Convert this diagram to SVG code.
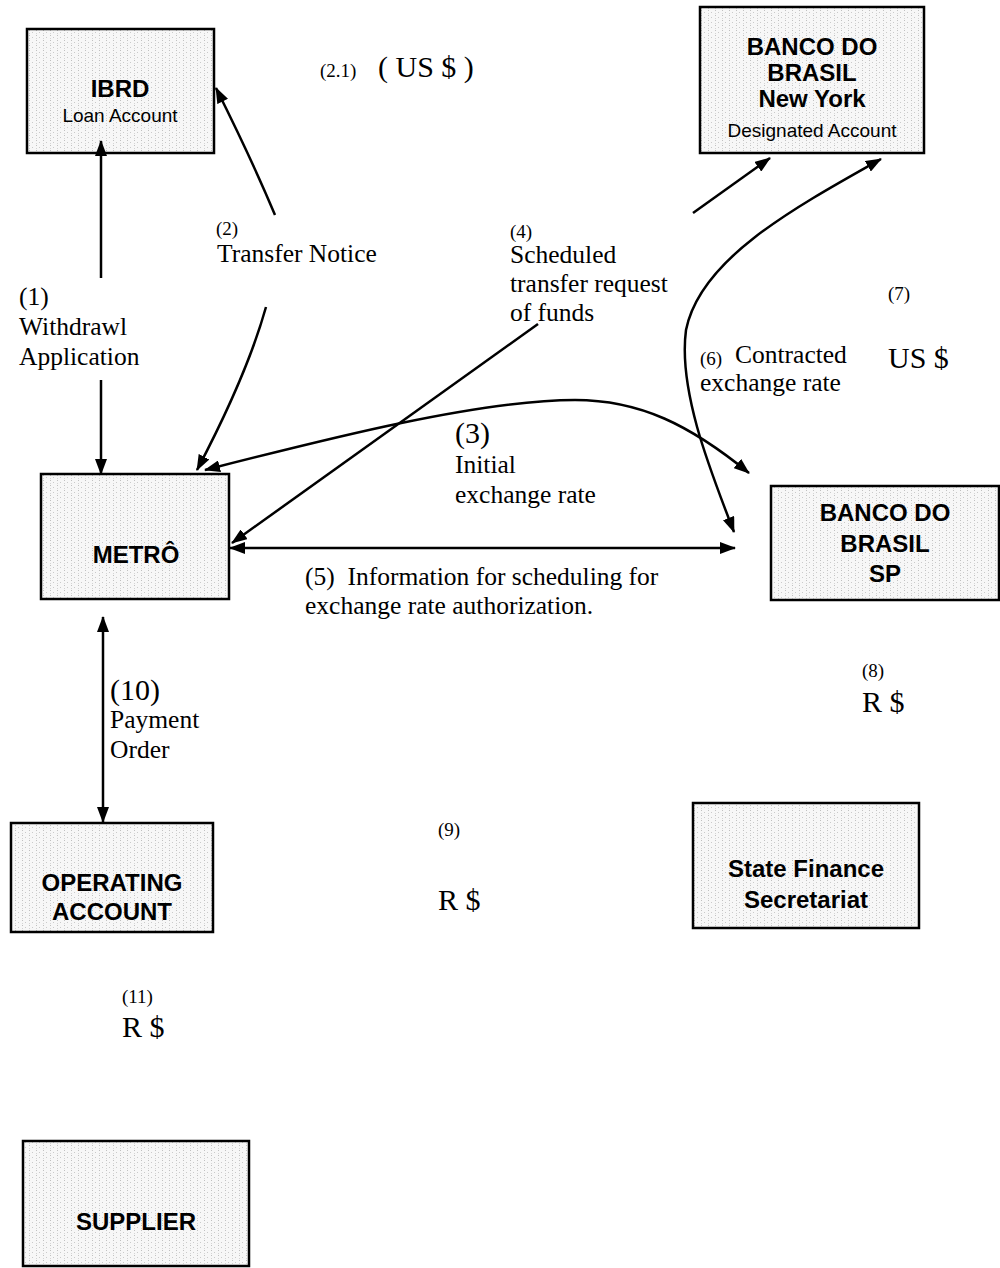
<svg xmlns="http://www.w3.org/2000/svg" width="1000" height="1268" viewBox="0 0 1000 1268">
<style>
.box{fill:url(#tex);stroke:#000;stroke-width:2.5}
.bt{font-family:"Liberation Sans",Arial,sans-serif;font-weight:bold;font-size:24px;fill:#000;text-anchor:middle}
.bs{font-family:"Liberation Sans",Arial,sans-serif;font-size:19px;fill:#000;text-anchor:middle}
.t{font-family:"Liberation Serif","Times New Roman",serif;font-size:25.5px;fill:#000}
.s{font-family:"Liberation Serif","Times New Roman",serif;font-size:19px;fill:#000}
.l{font-family:"Liberation Serif","Times New Roman",serif;font-size:30px;fill:#000}
.c{fill:none;stroke:#000;stroke-width:2.5}
</style>
<defs>
<pattern id="tex" width="7" height="5" patternUnits="userSpaceOnUse">
<rect width="7" height="5" fill="#f7f7f7"/>
<rect x="1" y="0" width="1" height="1" fill="#c0c0c0"/>
<rect x="1" y="3" width="1" height="1" fill="#d4d4d4"/>
<rect x="4" y="2" width="1" height="1" fill="#cacaca"/>
</pattern>
<marker id="ah" viewBox="0 0 16 12" refX="15" refY="6" markerWidth="16" markerHeight="12" markerUnits="userSpaceOnUse" orient="auto-start-reverse">
<path d="M0,0 L16,6 L0,12 z" fill="#000"/>
</marker>
</defs>

<g id="ibrd">
<rect class="box" x="27" y="29" width="187" height="124"/>
<text class="bt" x="120" y="97">IBRD</text>
<text class="bs" x="120" y="122">Loan Account</text>
</g>
<g id="bb-ny">
<rect class="box" x="700" y="7" width="224" height="146"/>
<text class="bt" x="812" y="55">BANCO DO</text>
<text class="bt" x="812" y="81">BRASIL</text>
<text class="bt" x="812" y="107">New York</text>
<text class="bs" x="812" y="137">Designated Account</text>
</g>
<g id="metro">
<rect class="box" x="41" y="474" width="188" height="125"/>
<text class="bt" x="136" y="563">METRÔ</text>
</g>
<g id="bb-sp">
<rect class="box" x="771" y="486" width="228" height="114"/>
<text class="bt" x="885" y="521">BANCO DO</text>
<text class="bt" x="885" y="552">BRASIL</text>
<text class="bt" x="885" y="582">SP</text>
</g>
<g id="operating">
<rect class="box" x="11" y="823" width="202" height="109"/>
<text class="bt" x="112" y="891">OPERATING</text>
<text class="bt" x="112" y="920">ACCOUNT</text>
</g>
<g id="sfs">
<rect class="box" x="693" y="803" width="226" height="125"/>
<text class="bt" x="806" y="877">State Finance</text>
<text class="bt" x="806" y="908">Secretariat</text>
</g>
<g id="supplier">
<rect class="box" x="23" y="1141" width="226" height="125"/>
<text class="bt" x="136" y="1230">SUPPLIER</text>
</g>

<g id="connectors">
<path class="c" d="M101,278 L101,141" marker-end="url(#ah)"/>
<path class="c" d="M101,380 L101,474" marker-end="url(#ah)"/>
<path class="c" d="M275,215 Q252,160 216,88" marker-end="url(#ah)"/>
<path class="c" d="M266,307 Q247,375 197,470" marker-end="url(#ah)"/>
<path class="c" d="M205,470 C330,438 480,400 575,400 C640,400 690,425 749,473" marker-start="url(#ah)" marker-end="url(#ah)"/>
<path class="c" d="M538,324 L232,543" marker-end="url(#ah)"/>
<path class="c" d="M693,213 L770,158" marker-end="url(#ah)"/>
<path class="c" d="M881,159 C790,210 700,260 686,330 C678,390 710,470 734,532" marker-start="url(#ah)" marker-end="url(#ah)"/>
<path class="c" d="M230,548 L735,548" marker-start="url(#ah)" marker-end="url(#ah)"/>
<path class="c" d="M103,617 L103,822" marker-start="url(#ah)" marker-end="url(#ah)"/>
</g>

<g id="labels">
<text class="s" x="320" y="77">(2.1)</text>
<text class="l" x="378" y="77">( US $ )</text>
<text class="s" x="216" y="235">(2)</text>
<text class="t" x="217" y="262">Transfer Notice</text>
<text class="t" x="19" y="305">(1)</text>
<text class="t" x="19" y="335">Withdrawl</text>
<text class="t" x="19" y="365">Application</text>
<text class="s" x="510" y="238">(4)</text>
<text class="t" x="510" y="263">Scheduled</text>
<text class="t" x="510" y="292">transfer request</text>
<text class="t" x="510" y="321">of funds</text>
<text class="s" x="888" y="300">(7)</text>
<text class="s" x="700" y="365">(6)</text>
<text class="t" x="735" y="363">Contracted</text>
<text class="t" x="700" y="391">exchange rate</text>
<text class="l" x="888" y="368">US $</text>
<text class="l" x="455" y="443">(3)</text>
<text class="t" x="455" y="473">Initial</text>
<text class="t" x="455" y="503">exchange rate</text>
<text class="t" x="305" y="585" xml:space="preserve">(5)  Information for scheduling for</text>
<text class="t" x="305" y="614">exchange rate authorization.</text>
<text class="s" x="862" y="677">(8)</text>
<text class="l" x="862" y="712">R $</text>
<text class="l" x="110" y="700">(10)</text>
<text class="t" x="110" y="728">Payment</text>
<text class="t" x="110" y="758">Order</text>
<text class="s" x="438" y="836">(9)</text>
<text class="l" x="438" y="910">R $</text>
<text class="s" x="122" y="1003">(11)</text>
<text class="l" x="122" y="1037">R $</text>
</g>
</svg>
